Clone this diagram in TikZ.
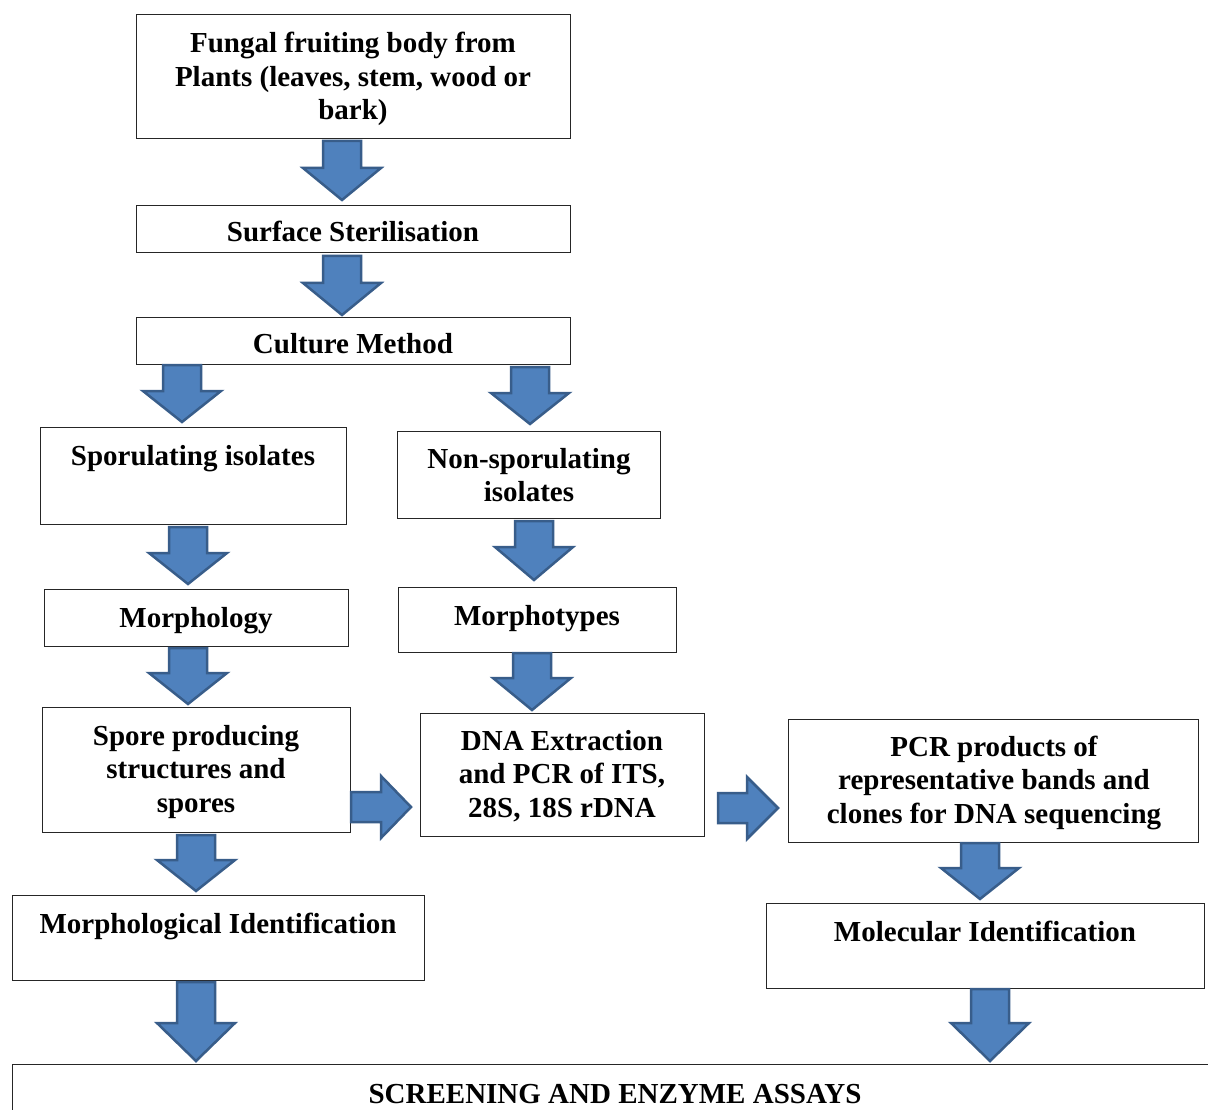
\documentclass[tikz,border=0pt]{standalone}
\usepackage{fontspec}
\setmainfont{Liberation Serif}
\definecolor{arrowfill}{RGB}{79,129,189}
\definecolor{arrowline}{RGB}{56,93,138}
\newcommand\dnblock[4]{% cx, ytop, yhead, ytip
  \draw[blockarrow] ({#1-19},#2) -- ({#1+19},#2) -- ({#1+19},#3) -- ({#1+39},#3) -- (#1,#4) -- ({#1-39},#3) -- ({#1-19},#3) -- cycle;}
\newcommand\rtblock[4]{% cy, xleft, xhead, xtip
  \draw[blockarrow] (#2,{#1-15}) -- (#3,{#1-15}) -- (#3,{#1-31}) -- (#4,#1) -- (#3,{#1+31}) -- (#3,{#1+15}) -- (#2,{#1+15}) -- cycle;}
\newcommand\lines[1]{\begin{tabular}[t]{@{}c@{}}#1\end{tabular}}
\begin{document}
\begin{tikzpicture}[x=1pt,y=-1pt,
  box/.style={draw=black!85, line width=1.3pt, fill=white, inner sep=0pt, anchor=north west},
  lbl/.style={inner sep=0pt, anchor=base, font=\fontsize{29}{33.5}\selectfont\bfseries},
  blockarrow/.style={fill=arrowfill, draw=arrowline, line width=2.5pt, line join=miter}]
\clip (0,0) rectangle (1208,1110);
\useasboundingbox (0,0) rectangle (1208,1110);
\fill[white] (0,0) rectangle (1208,1110);

% boxes
\node[box, minimum width=434pt, minimum height=124pt] (b1) at (136,14) {};
\node[box, minimum width=434pt, minimum height=47pt] (b2) at (136,205) {};
\node[box, minimum width=434pt, minimum height=47pt] (b3) at (136,317) {};
\node[box, minimum width=306pt, minimum height=97pt] (b4) at (40,427) {};
\node[box, minimum width=263pt, minimum height=87pt] (b5) at (397,431) {};
\node[box, minimum width=304pt, minimum height=57pt] (b6) at (44,589) {};
\node[box, minimum width=278pt, minimum height=65pt] (b7) at (398,587) {};
\node[box, minimum width=308pt, minimum height=125pt] (b8) at (42,707) {};
\node[box, minimum width=284pt, minimum height=123pt] (b9) at (420,713) {};
\node[box, minimum width=410pt, minimum height=123pt] (b10) at (788,719) {};
\node[box, minimum width=412pt, minimum height=85pt] (b11) at (12,895) {};
\node[box, minimum width=438pt, minimum height=85pt] (b12) at (766,903) {};
\node[box, minimum width=1240pt, minimum height=80pt] (b13) at (12,1064) {};

% texts
\node[lbl] (t1) at (353,53) {\lines{Fungal fruiting body from\\Plants (leaves, stem, wood or\\bark)}};
\node[lbl] (t2) at (353,242) {Surface Sterilisation};
\node[lbl] (t3) at (353,353) {Culture Method};
\node[lbl] (t4) at (193,465) {Sporulating isolates};
\node[lbl] (t5) at (529,468) {\lines{Non-sporulating\\isolates}};
\node[lbl] (t6) at (196,627) {Morphology};
\node[lbl] (t7) at (537,625) {Morphotypes};
\node[lbl] (t8) at (196,745) {\lines{Spore producing\\structures and\\spores}};
\node[lbl] (t9) at (562,750) {\lines{DNA Extraction\\and PCR of ITS,\\28S, 18S rDNA}};
\node[lbl] (t10) at (994,756) {\lines{PCR products of\\representative bands and\\clones for DNA sequencing}};
\node[lbl] (t11) at (218,933) {Morphological Identification};
\node[lbl] (t12) at (985,941) {Molecular Identification};
\node[lbl] (t13) at (615,1103) {SCREENING AND ENZYME ASSAYS};

% block arrows
\dnblock{342}{141}{168}{200}
\dnblock{342}{256}{283}{315}
\dnblock{182}{365}{391}{422}
\dnblock{530}{367}{393}{424}
\dnblock{188}{527}{553}{584}
\dnblock{534}{521}{547}{580}
\dnblock{188}{648}{673}{704}
\dnblock{532}{653}{678}{710}
\dnblock{196}{835}{860}{891}
\dnblock{980}{843}{868}{899}
\dnblock{196}{982}{1023}{1061}
\dnblock{990}{989}{1023}{1061}
\rtblock{807}{351}{381}{411}
\rtblock{808}{718}{747}{778}
\end{tikzpicture}
\end{document}
